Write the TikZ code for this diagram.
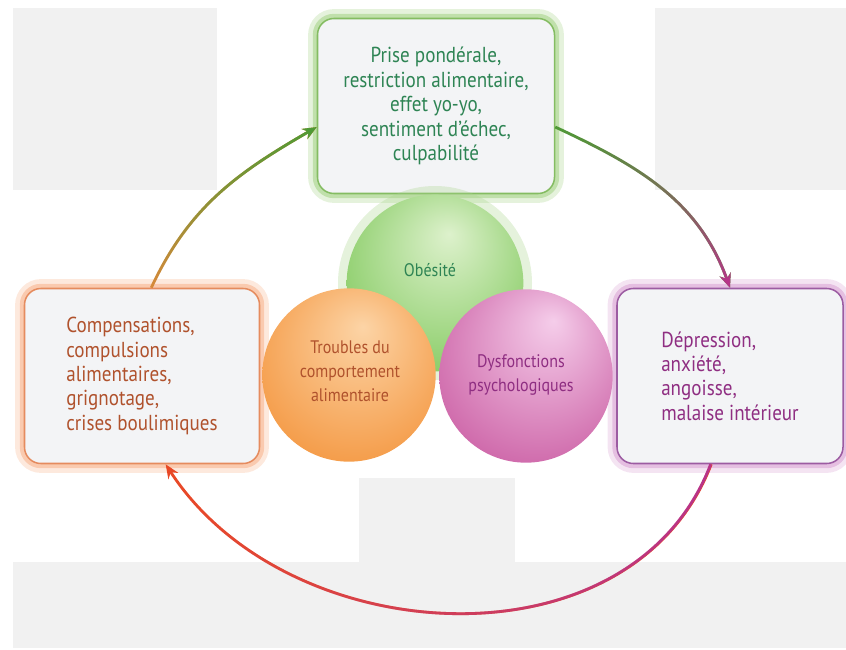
\documentclass[tikz,border=0pt]{standalone}
\usepackage{fontspec}
\setmainfont[FakeStretch=0.88]{PT Sans}
\usetikzlibrary{arrows.meta,fadings}

\definecolor{grisfond}{HTML}{F1F1F1}
\definecolor{fond}{HTML}{F3F4F6}
\definecolor{vertbord}{HTML}{84BC62}
\definecolor{vertlueur}{HTML}{A8D48A}
\definecolor{verttexte}{HTML}{2E8454}
\definecolor{orangebord}{HTML}{E58B5E}
\definecolor{orangelueur}{HTML}{F8B690}
\definecolor{orangetexte}{HTML}{B0522D}
\definecolor{violetbord}{HTML}{9C5CA2}
\definecolor{violetlueur}{HTML}{DBA6D5}
\definecolor{violettexte}{HTML}{8F2E82}
\definecolor{verthaut}{HTML}{DDF1CC}
\definecolor{vertballe}{HTML}{78C552}
\definecolor{orangehaut}{HTML}{FCD4A6}
\definecolor{orangeballe}{HTML}{F39035}
\definecolor{violethaut}{HTML}{F5CDEA}
\definecolor{violetballe}{HTML}{C8579F}
\definecolor{flechevert}{HTML}{4E9A35}
\definecolor{flecheorange}{HTML}{D9893A}
\definecolor{flecheviolet}{HTML}{B8338A}
\definecolor{flecherouge}{HTML}{EA4A25}

\pgfdeclareradialshading{bouleverte}{\pgfpoint{4bp}{14bp}}{color(0bp)=(verthaut); color(38bp)=(vertballe); color(50bp)=(vertballe)}
\pgfdeclareradialshading{bouleorange}{\pgfpoint{4bp}{14bp}}{color(0bp)=(orangehaut); color(38bp)=(orangeballe); color(50bp)=(orangeballe)}
\pgfdeclareradialshading{bouleviolet}{\pgfpoint{8bp}{16bp}}{color(0bp)=(violethaut); color(38bp)=(violetballe); color(50bp)=(violetballe)}

\begin{document}
\begin{tikzpicture}[x=0.03cm, y=-0.03cm,
  texte/.style = {font=\fontsize{15.5}{20.5}\selectfont, align=center},
  boite/.style = {font=\fontsize{18.5}{20.8}\selectfont, align=center,
    rounded corners=14pt, fill=fond, draw=#1bord, line width=1.3pt,
    preaction={draw=#1lueur, line width=16pt, opacity=.3},
    preaction={draw=#1lueur, line width=8pt, opacity=.6},
    text=#1texte, minimum height=5.25cm, inner sep=0pt},
  balle/.style = {circle, inner sep=0pt},
  fleche/.style = {line width=2.4pt, -{Stealth[length=12pt, width=10pt]}}]
  % fond
  \useasboundingbox (0,0) rectangle (846,650);
  \fill[grisfond] (13,8) rectangle (217,190);
  \fill[grisfond] (655,8) rectangle (846,190);
  \fill[grisfond] (359,478) rectangle (515,562);
  \fill[grisfond] (13,562) rectangle (846,648);

  % les trois encadres
  \node[boite=vert, minimum width=7.11cm] (poids) at (436,106)
    {Prise pondérale,\\restriction alimentaire,\\effet yo-yo,\\sentiment d’échec,\\culpabilité};
  \node[boite=orange, minimum width=7.05cm, align=left] (compens) at (142,376)
    {Compensations,\\compulsions\\alimentaires,\\grignotage,\\crises boulimiques};
  \node[boite=violet, minimum width=6.78cm, align=left] (depress) at (730,376)
    {Dépression,\\anxiété,\\angoisse,\\malaise intérieur};

  % les trois boules
  \fill[vertlueur, opacity=.3] (435,283) circle (97);
  \node[balle, shading=bouleverte, minimum size=5.3cm] (obesite) at (435,283) {};
  \node[balle, shading=bouleorange, minimum size=5.2cm] (troubles) at (349,375) {};
  \node[balle, shading=bouleviolet, minimum size=5.2cm] (dysf) at (526,376) {};
  \node[texte, text=verttexte] (t-obesite) at (430,270) {Obésité};
  \node[texte, text=orangetexte] (t-troubles) at (350,371) {Troubles du\\comportement\\alimentaire};
  \node[texte, text=violettexte] (t-dysf) at (521,375) {Dysfonctions\\psychologiques};

  % le cycle
  \draw[fleche, flecheorange] (compens.84) to[out=65, in=210] (poids.190);
  \draw[fleche, flechevert, path fading=south] (compens.84) to[out=65, in=210] (poids.190);
  \draw[fleche, flechevert] (poids.350) to[out=-25, in=110] (depress.north);
  \draw[fleche, flecheviolet, path fading=north] (poids.350) to[out=-25, in=110] (depress.north);
  \draw[fleche, flecherouge] (depress.258) to[out=-111, in=-57, looseness=1.05] (compens.285);
  \draw[fleche, flecheviolet, path fading=west] (depress.258) to[out=-111, in=-57, looseness=1.05] (compens.285);
\end{tikzpicture}
\end{document}
